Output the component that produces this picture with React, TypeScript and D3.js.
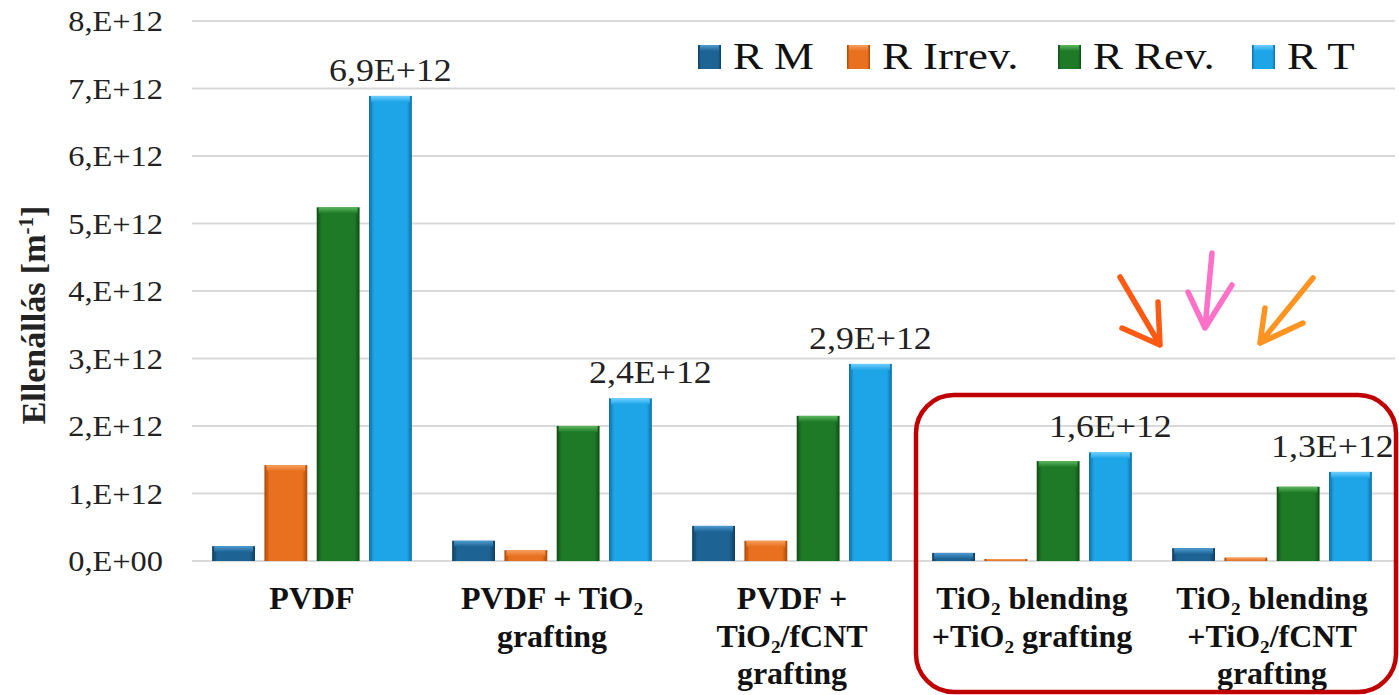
import React from "react";
import * as d3 from "d3";

const categories: string[][] = [
  ["PVDF"],
  ["PVDF + TiO₂", "grafting"],
  ["PVDF +", "TiO₂/fCNT", "grafting"],
  ["TiO₂ blending", "+TiO₂ grafting"],
  ["TiO₂ blending", "+TiO₂/fCNT", "grafting"],
];
const seriesNames = ["R M", "R Irrev.", "R Rev.", "R T"];
// values in units of 1E+12 m^-1
const rM = [0.22, 0.3, 0.52, 0.12, 0.19];
const rIrrev = [1.42, 0.16, 0.3, 0.03, 0.05];
const rRev = [5.24, 2.0, 2.15, 1.48, 1.1];
const rT = [6.89, 2.41, 2.92, 1.61, 1.32];
const totalLabels = ["6,9E+12", "2,4E+12", "2,9E+12", "1,6E+12", "1,3E+12"];
const yTicks = [0, 1, 2, 3, 4, 5, 6, 7, 8];
const yTickLabels = ["0,E+00", "1,E+12", "2,E+12", "3,E+12", "4,E+12", "5,E+12", "6,E+12", "7,E+12", "8,E+12"];

const W = 1399;
const H = 695;
const FONT = "'Liberation Serif', 'Times New Roman', serif";

const colors = ["#1d6394", "#e8701e", "#1f7a27", "#1ea5e8"];
const tops = ["#4f9bd0", "#f6a060", "#5cb85f", "#6fd0ff"];
const edges = ["#0f3d5e", "#a84a0a", "#0e4d14", "#0f6fa3"];
const labelDx = [0, 20, 0, 0, -18];

export default function App() {
  const series = [rM, rIrrev, rRev, rT];
  const x0 = d3.scaleBand<number>().domain(d3.range(categories.length)).range([192, 1392]);
  const x1 = d3
    .scaleBand<number>()
    .domain(d3.range(series.length))
    .range([0, x0.bandwidth()])
    .paddingInner(0.18)
    .paddingOuter(0.385);
  const y = d3.scaleLinear().domain([0, 8]).range([561, 21]);

  const st = (x: number, yy: number, sx: number) => `translate(${x},${yy}) scale(${sx},1)`;
  const legendX = [698, 847, 1058, 1252];

  return (
    <svg
      width={W}
      height={H}
      style={{ position: "absolute", left: 0, top: 0, background: "#fff" }}
      fontFamily={FONT}
    >
      <defs>
        {colors.map((c, i) => (
          <linearGradient key={i} id={`g${i}`} x1="0" x2="1" y1="0" y2="0">
            <stop offset="0" stopColor={edges[i]} />
            <stop offset="0.12" stopColor={c} />
            <stop offset="0.88" stopColor={c} />
            <stop offset="1" stopColor={edges[i]} />
          </linearGradient>
        ))}
        {colors.map((c, i) => (
          <linearGradient key={i} id={`t${i}`} x1="0" x2="0" y1="0" y2="1">
            <stop offset="0" stopColor={tops[i]} />
            <stop offset="1" stopColor={c} />
          </linearGradient>
        ))}
      </defs>
      <rect x={0} y={0} width={W} height={H} fill="#fff" />

      {/* gridlines */}
      {yTicks.map((t) => (
        <line key={t} x1={192} x2={1395} y1={y(t)} y2={y(t)} stroke="#d9d9d9" strokeWidth={2} />
      ))}

      {/* y tick labels */}
      {yTicks.map((t, i) => (
        <text key={t} transform={st(163, y(t) + 10, 1.08)} textAnchor="end" fontSize={30} fill="#222">
          {yTickLabels[i]}
        </text>
      ))}

      {/* y title */}
      <text transform={`translate(45,315) rotate(-90)`} textAnchor="middle" fontSize={34} fontWeight="bold" fill="#222">
        Ellenállás [m
        <tspan baselineShift="super" fontSize={21}>-1</tspan>]
      </text>

      {/* bars */}
      {categories.map((_, ci) =>
        series.map((s, si) => {
          const bx = (x0(ci) ?? 0) + (x1(si) ?? 0);
          const bw = x1.bandwidth();
          const by = y(s[ci]);
          const bh = y(0) - by;
          const th = Math.min(6, bh);
          return (
            <g key={`${ci}-${si}`}>
              <rect x={bx} y={by} width={bw} height={bh} fill={`url(#g${si})`} />
              <rect x={bx + 2} y={by} width={bw - 4} height={th} fill={`url(#t${si})`} />
            </g>
          );
        })
      )}

      {/* total labels */}
      {categories.map((_, ci) => {
        const bx = (x0(ci) ?? 0) + (x1(3) ?? 0) + x1.bandwidth() / 2 + labelDx[ci];
        return (
          <text key={ci} transform={st(bx, y(rT[ci]) - 15, 1.12)} textAnchor="middle" fontSize={32} fill="#222">
            {totalLabels[ci]}
          </text>
        );
      })}

      {/* category labels */}
      {categories.map((lines, ci) => {
        const cx = (x0(ci) ?? 0) + x0.bandwidth() / 2;
        return lines.map((ln, li) => (
          <text
            key={`${ci}-${li}`}
            transform={st(cx, 609 + li * 37.5, 1.0)}
            textAnchor="middle"
            fontSize={32}
            fontWeight="bold"
            fill="#111"
          >
            {ln}
          </text>
        ));
      })}

      {/* legend */}
      {seriesNames.map((n, i) => (
        <g key={n}>
          <rect x={legendX[i]} y={45} width={23} height={24} fill={`url(#g${i})`} />
          <rect x={legendX[i] + 2} y={45} width={19} height={6} fill={`url(#t${i})`} />
          <text transform={st(legendX[i] + 35, 69, 1.18)} fontSize={38} fill="#111">
            {n}
          </text>
        </g>
      ))}

      {/* annotation: red rounded box */}
      <rect x={916} y={395} width={480} height={297} rx={38} ry={38} fill="none" stroke="#c00000" strokeWidth={4.5} />

      {/* annotation arrows */}
      <g fill="none" strokeWidth={5.5} strokeLinecap="round" strokeLinejoin="round">
        <path d="M1120,277 L1160,345 M1122,328 L1160,345 L1158,302" stroke="#ff5a14" />
        <path d="M1212,253 L1205,328 M1188,292 L1205,328 L1232,285" stroke="#ff70c8" />
        <path d="M1313,278 L1260,343 M1265,308 L1260,343 L1303,323" stroke="#ff9422" />
      </g>
    </svg>
  );
}
